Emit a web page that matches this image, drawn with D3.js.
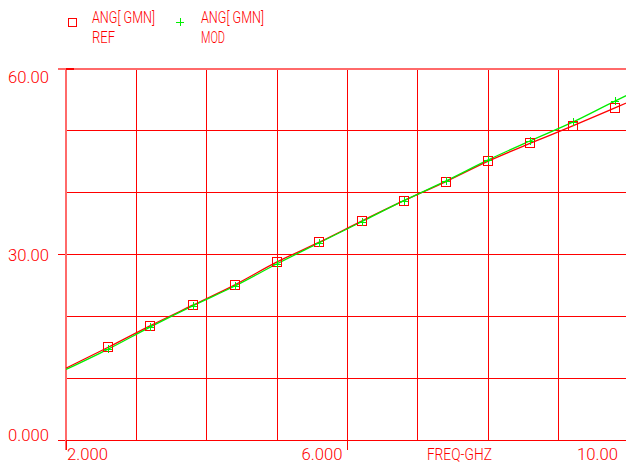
<!DOCTYPE html>
<html>
<head>
<meta charset="utf-8">
<script src="https://cdn.jsdelivr.net/npm/d3@7"></script>
<style>
  body { margin: 0; background: #fff; }
  svg { display: block; }
  text { font-family: Roboto, "DejaVu Sans", sans-serif; font-weight: 300; fill: #ff0000; }
</style>
</head>
<body>
<script>
// measured data (freq in GHz, angle in degrees)
const freq = [2.6, 3.2, 3.8, 4.4, 5.0, 5.6, 6.2, 6.8, 7.4, 8.0, 8.6, 9.2, 9.8]
const refVals = [15.0, 18.5, 21.8, 25.1, 28.8, 32.0, 35.4, 38.7, 41.8, 45.1, 48.0, 50.8, 53.7]
const modVals = [14.7, 18.3, 21.7, 24.9, 28.5, 31.9, 35.3, 38.7, 41.9, 45.3, 48.4, 51.4, 54.8]

// traces run the full span of the sweep
const lineFreq = [2.0, 2.6, 3.2, 3.8, 4.4, 5.0, 5.6, 6.2, 6.8, 7.4, 8.0, 8.6, 9.2, 9.8, 10.0]
const refLine = [11.6, 15.0, 18.5, 21.8, 25.1, 28.8, 32.0, 35.4, 38.7, 41.8, 45.1, 48.0, 50.8, 53.7, 54.7]
const modLine = [11.4, 14.7, 18.3, 21.7, 24.9, 28.5, 31.9, 35.3, 38.7, 41.9, 45.3, 48.4, 51.4, 54.8, 55.9]

const xGrid = [2, 3, 4, 5, 6, 7, 8, 9, 10]
const yGrid = [0, 10, 20, 30, 40, 50, 60]
const xTicks = [2, 6, 10]
const xTickLabels = ['2.000', '6.000', '10.00']
const yTicks = [0, 30, 60]
const yTickLabels = ['0.000', '30.00', '60.00']
const xTitle = 'FREQ-GHZ'
const legendNames = [['ANG[ GMN]', 'REF'], ['ANG[ GMN]', 'MOD']]

const W = 626, H = 466
const margin = {top: 69, left: 66}
const plotRight = 629, plotBottom = 440

const RED = '#ff0000', GREEN = '#00ee00'

const svg = d3.select('body').append('svg')
  .attr('width', W).attr('height', H)

const x = d3.scaleLinear().domain([2, 10]).range([margin.left, plotRight])
const y = d3.scaleLinear().domain([0, 60]).range([plotBottom, margin.top])

// grid
const grid = svg.append('g').attr('shape-rendering', 'crispEdges')
grid.selectAll('line.v').data(xGrid).enter().append('line')
  .attr('class', 'v')
  .attr('x1', d => x(d)).attr('x2', d => x(d))
  .attr('y1', y(60)).attr('y2', y(0))
  .attr('stroke', RED).attr('stroke-width', 1)
grid.selectAll('line.h').data(yGrid).enter().append('line')
  .attr('class', 'h')
  .attr('x1', d => yTicks.includes(d) ? x(2) - 8 : x(2))
  .attr('x2', W)
  .attr('y1', d => y(d)).attr('y2', d => y(d))
  .attr('stroke', RED).attr('stroke-width', 1)

// left axis and top frame look a bit heavier / softer
svg.append('line')
  .attr('x1', x(2)).attr('x2', x(2)).attr('y1', y(60)).attr('y2', y(0) + 10)
  .attr('stroke', '#ff6a6a').attr('stroke-width', 2)
svg.append('line')
  .attr('x1', x(2) - 8).attr('x2', W).attr('y1', y(60)).attr('y2', y(60))
  .attr('stroke', '#ff6a6a').attr('stroke-width', 2)
svg.append('line')
  .attr('x1', x(2)).attr('x2', x(2) + 8).attr('y1', y(60)).attr('y2', y(60))
  .attr('stroke', RED).attr('stroke-width', 2)

// x ticks going down under the axis
svg.selectAll('line.xt').data(xTicks).enter().append('line')
  .attr('class', 'xt')
  .attr('shape-rendering', 'crispEdges')
  .attr('x1', d => x(d)).attr('x2', d => x(d))
  .attr('y1', y(0)).attr('y2', y(0) + 10)
  .attr('stroke', RED)

// y tick labels
svg.selectAll('text.yl').data(yTicks).enter().append('text')
  .attr('class', 'yl')
  .attr('x', 8)
  .attr('y', d => Math.max(margin.top + 14, Math.min(y(d) + 6, plotBottom + 1)))
  .attr('textLength', 41).attr('lengthAdjust', 'spacingAndGlyphs')
  .style('font-size', '17px')
  .text((d, i) => yTickLabels[i])

// x tick labels
svg.selectAll('text.xl').data(xTicks).enter().append('text')
  .attr('class', 'xl')
  .attr('x', (d, i) => i === 0 ? x(d) + 1 : Math.min(x(d) - 5, W - 8))
  .attr('y', plotBottom + 20)
  .attr('text-anchor', (d, i) => i === 0 ? 'start' : 'end')
  .attr('textLength', 41).attr('lengthAdjust', 'spacingAndGlyphs')
  .style('font-size', '17px')
  .text((d, i) => xTickLabels[i])

svg.append('text')
  .attr('x', x(7) + 9).attr('y', plotBottom + 20)
  .attr('textLength', 65).attr('lengthAdjust', 'spacingAndGlyphs')
  .style('font-size', '17px')
  .text(xTitle)

// traces
const clip = svg.append('clipPath').attr('id', 'clip')
  .append('rect').attr('x', margin.left).attr('y', 0).attr('width', W - margin.left).attr('height', H)

const line = vals => d3.line()
  .x((d, i) => x(d))
  .y((d, i) => y(vals[i]))
  .curve(d3.curveMonotoneX)

const traces = svg.append('g').attr('clip-path', 'url(#clip)')
traces.append('path').datum(lineFreq)
  .attr('d', line(refLine))
  .attr('fill', 'none').attr('stroke', RED).attr('stroke-width', 1.3)
traces.append('path').datum(lineFreq)
  .attr('d', line(modLine))
  .attr('fill', 'none').attr('stroke', GREEN).attr('stroke-width', 1.3)

// REF markers: squares
svg.selectAll('rect.ref').data(freq).enter().append('rect')
  .attr('class', 'ref')
  .attr('x', d => Math.round(x(d)) - 4.5)
  .attr('y', (d, i) => Math.round(y(refVals[i])) - 4.5)
  .attr('width', 9).attr('height', 9)
  .attr('fill', 'none').attr('stroke', RED).attr('stroke-width', 1)

// MOD markers: plus
const plus = svg.selectAll('g.mod').data(freq).enter().append('g')
  .attr('class', 'mod')
  .attr('transform', (d, i) => 'translate(' + Math.round(x(d)) + ',' + Math.round(y(modVals[i])) + ')')
plus.append('line').attr('x1', -4).attr('x2', 4).attr('y1', 0.5).attr('y2', 0.5)
  .attr('stroke', GREEN)
plus.append('line').attr('x1', 0.5).attr('x2', 0.5).attr('y1', -4).attr('y2', 4)
  .attr('stroke', GREEN)

// legend
const legend = svg.append('g')
const lg0 = legend.append('g').attr('transform', 'translate(68,18)')
lg0.append('rect').attr('x', 0.5).attr('y', 0.5).attr('width', 8).attr('height', 8)
  .attr('fill', 'none').attr('stroke', RED)
const lg1 = legend.append('g').attr('transform', 'translate(180,22)')
lg1.append('line').attr('x1', -4).attr('x2', 4).attr('y1', 0.5).attr('y2', 0.5).attr('stroke', GREEN)
lg1.append('line').attr('x1', 0.5).attr('x2', 0.5).attr('y1', -4).attr('y2', 4).attr('stroke', GREEN)

const legendX = [92, 201]
legendNames.forEach((names, i) => {
  legend.append('text')
    .attr('x', legendX[i]).attr('y', 23)
    .attr('textLength', 63).attr('lengthAdjust', 'spacingAndGlyphs')
    .style('font-size', '17px')
    .text(names[0])
  legend.append('text')
    .attr('x', legendX[i]).attr('y', 43)
    .attr('textLength', names[1] === 'REF' ? 23 : 24).attr('lengthAdjust', 'spacingAndGlyphs')
    .style('font-size', '17px')
    .text(names[1])
})
</script>
</body>
</html>
